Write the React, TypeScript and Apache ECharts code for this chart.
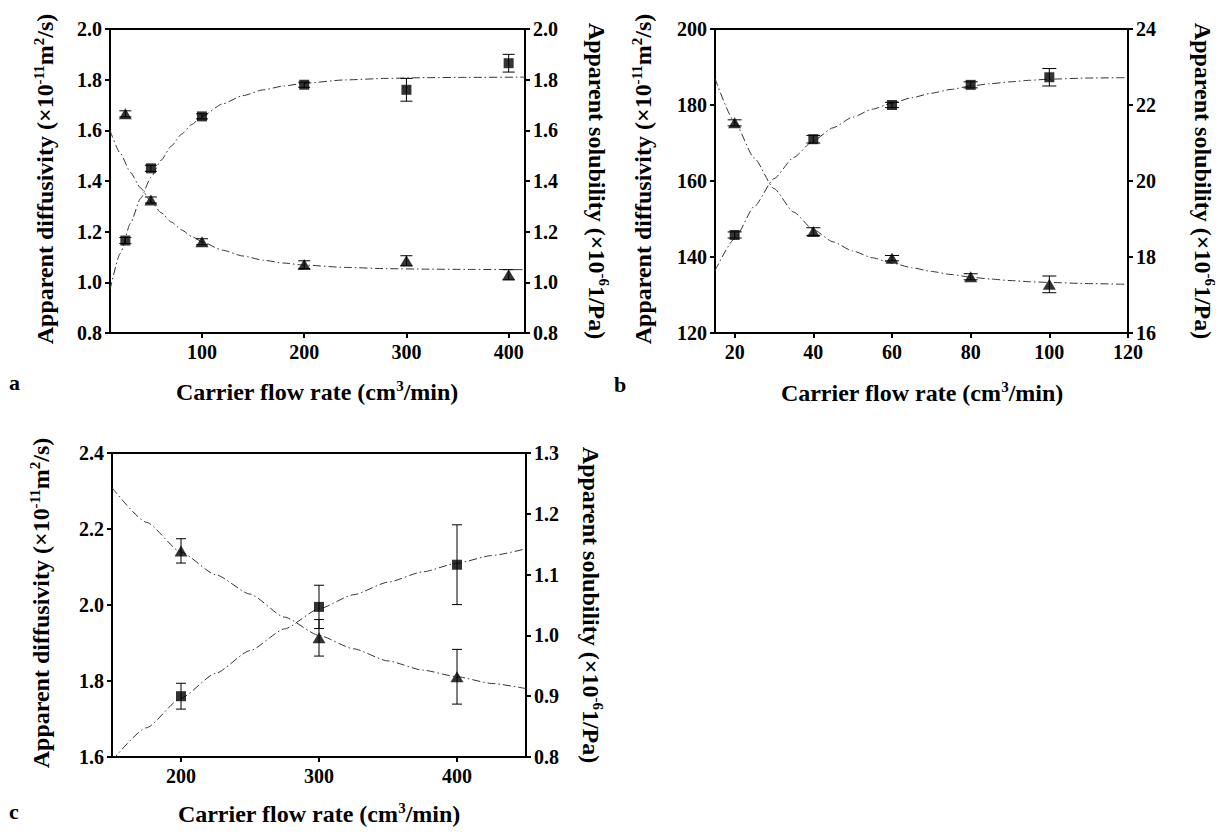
import React, { useEffect, useRef } from 'react';
import * as echarts from 'echarts';

const serif = 'Liberation Serif';

// ---------- Panel a ----------
const aX = [25, 50, 100, 200, 300, 400];
const aSquare = [1.165, 1.45, 1.655, 1.78, 1.76, 1.865];
const aSquareErr = [0.012, 0.012, 0.01, 0.01, 0.045, 0.035];
const aTri = [1.665, 1.325, 1.16, 1.07, 1.085, 1.03];
const aTriErr = [0.012, 0.012, 0.012, 0.015, 0.02, 0.02];
const aFitX = [10, 20, 30, 40, 50, 60, 70, 80, 90, 100, 120, 140, 160, 180, 200, 240, 280, 320, 360, 416];
const aSquareFit = [0.97, 1.114, 1.233, 1.332, 1.414, 1.482, 1.538, 1.585, 1.623, 1.655, 1.704, 1.737, 1.76, 1.775, 1.786, 1.799, 1.805, 1.808, 1.809, 1.81];
const aTriFit = [1.6, 1.51, 1.434, 1.372, 1.319, 1.275, 1.238, 1.207, 1.181, 1.16, 1.127, 1.104, 1.0875, 1.076, 1.068, 1.059, 1.054, 1.052, 1.051, 1.05];
const aXTicks = [100, 200, 300, 400];

// ---------- Panel b ----------
const bX = [20, 40, 60, 80, 100];
const bSquare = [145.8, 171.0, 180.0, 185.3, 187.3];
const bSquareErr = [0.8, 1.0, 0.7, 0.8, 2.3];
const bTri = [21.53, 18.67, 17.97, 17.48, 17.28];
const bTriErr = [0.08, 0.1, 0.07, 0.08, 0.22];
const bFitX = [15, 20, 25, 30, 35, 40, 45, 50, 55, 60, 65, 70, 75, 80, 85, 90, 95, 100, 110, 120];
const bSquareFit = [136.4, 144.8, 153.3, 160.6, 166.2, 170.6, 174.0, 176.8, 178.9, 180.5, 181.9, 183.1, 184.1, 185.0, 185.6, 186.1, 186.5, 186.8, 187.1, 187.2];
const bTriFit = [22.7, 21.55, 20.6, 19.8, 19.18, 18.72, 18.4, 18.16, 17.98, 17.84, 17.72, 17.62, 17.54, 17.47, 17.42, 17.38, 17.35, 17.33, 17.3, 17.28];
const bXTicks = [20, 40, 60, 80, 100, 120];

// ---------- Panel c ----------
const cX = [200, 300, 400];
const cSquare = [1.76, 1.995, 2.106];
const cSquareErr = [0.034, 0.057, 0.105];
const cTri = [1.139, 0.996, 0.932];
const cTriErr = [0.02, 0.03, 0.045];
const cFitX = [150, 175, 200, 225, 250, 275, 300, 325, 350, 375, 400, 425, 450];
const cSquareFit = [1.59, 1.677, 1.755, 1.82, 1.88, 1.937, 1.99, 2.027, 2.06, 2.087, 2.11, 2.13, 2.148];
const cTriFit = [1.243, 1.186, 1.137, 1.1, 1.068, 1.03, 1.0, 0.978, 0.958, 0.943, 0.932, 0.921, 0.9125];
const cXTicks = [200, 300, 400];

const zip = (xs: number[], ys: number[]) => xs.map((x, i) => [x, ys[i]]);
const zip3 = (xs: number[], ys: number[], es: number[]) => xs.map((x, i) => [x, ys[i], es[i]]);

const tickRich = { t: { fontSize: 20, fontWeight: 'bold', fontFamily: serif, color: '#000' } };

function yAx(gridIndex: number, position: string, min: number, max: number, interval: number, dec: number) {
  return {
    type: 'value', gridIndex, position, min, max, interval,
    splitLine: { show: false },
    axisLine: { show: true, onZero: false, lineStyle: { color: '#000', width: 2 } },
    axisTick: { show: true, length: 5, lineStyle: { color: '#000', width: 2 } },
    axisLabel: {
      color: '#000', fontSize: 20, fontWeight: 'bold', fontFamily: serif, margin: 8,
      rich: tickRich, formatter: (v: number) => `{t|${v.toFixed(dec)}}`,
    },
  };
}

function xAx(gridIndex: number, min: number, max: number, ticks: number[]) {
  return {
    type: 'value', gridIndex, min, max,
    splitLine: { show: false },
    axisLine: { show: true, onZero: false, lineStyle: { color: '#000', width: 2 } },
    axisTick: { show: true, length: 5, customValues: ticks, lineStyle: { color: '#000', width: 2 } },
    axisLabel: {
      color: '#000', fontSize: 20, fontWeight: 'bold', fontFamily: serif, margin: 9,
      customValues: ticks, rich: tickRich, formatter: (v: number) => `{t|${v}}`,
    },
  };
}

const dashDot = { color: '#333', width: 1, type: [8, 3, 1.5, 3] };

function fit(xi: number, yi: number, xs: number[], ys: number[]) {
  return {
    type: 'line', xAxisIndex: xi, yAxisIndex: yi, data: zip(xs, ys),
    smooth: 0.2, smoothMonotone: 'x', symbol: 'none', showSymbol: false,
    lineStyle: dashDot, silent: true, clip: true, z: 2,
  };
}

function pts(xi: number, yi: number, xs: number[], ys: number[], tri: boolean) {
  return {
    type: 'scatter', xAxisIndex: xi, yAxisIndex: yi, data: zip(xs, ys),
    symbol: tri ? 'triangle' : 'rect', symbolSize: tri ? [13, 11] : 10,
    itemStyle: { color: '#000' }, silent: true, z: 5,
  };
}

function errs(xi: number, yi: number, xs: number[], ys: number[], es: number[], hw: number) {
  return {
    type: 'custom', xAxisIndex: xi, yAxisIndex: yi, data: zip3(xs, ys, es),
    encode: { x: 0, y: 1 }, silent: true, z: 4,
    renderItem: (_p: any, api: any) => {
      const x = api.value(0), y = api.value(1), e = api.value(2);
      const t = api.coord([x, y + e]);
      const b = api.coord([x, y - e]);
      const st = { stroke: '#000', lineWidth: 1 };
      return {
        type: 'group',
        children: [
          { type: 'line', shape: { x1: t[0], y1: t[1], x2: b[0], y2: b[1] }, style: st },
          { type: 'line', shape: { x1: t[0] - hw, y1: t[1], x2: t[0] + hw, y2: t[1] }, style: st },
          { type: 'line', shape: { x1: b[0] - hw, y1: b[1], x2: b[0] + hw, y2: b[1] }, style: st },
        ],
      };
    },
  };
}

const rich = {
  n: { fontSize: 24, fontWeight: 'bold', fontFamily: serif, lineHeight: 28, fill: '#000' },
  s: { fontSize: 15, fontWeight: 'bold', fontFamily: serif, lineHeight: 12, verticalAlign: 'top', fill: '#000' },
};
const diffText = '{n|Apparent diffusivity (×10}{s|-11}{n|m}{s|2}{n|/s)}';
const solText = '{n|Apparent solubility (×10}{s|-6}{n|1/Pa)}';
const flowText = '{n|Carrier flow rate (cm}{s|3}{n|/min)}';

function title(text: string, x: number, y: number, rotation: number) {
  return {
    type: 'text', x, y, rotation, silent: true,
    style: { text, rich, align: 'center', verticalAlign: 'middle', fill: '#000' },
  };
}
function letter(t: string, x: number, y: number) {
  return {
    type: 'text', x, y, silent: true,
    style: { text: t, fontSize: 22, fontWeight: 'bold', fontFamily: serif, fill: '#000', align: 'left', verticalAlign: 'middle' },
  };
}

const option = {
  animation: false,
  backgroundColor: '#fff',
  textStyle: { fontFamily: serif, fontWeight: 'bold' },
  grid: [
    { left: 110, top: 29, width: 415, height: 304, show: true, borderColor: '#000', borderWidth: 2, backgroundColor: 'transparent' },
    { left: 715, top: 29, width: 413, height: 304, show: true, borderColor: '#000', borderWidth: 2, backgroundColor: 'transparent' },
    { left: 112, top: 453, width: 414, height: 304, show: true, borderColor: '#000', borderWidth: 2, backgroundColor: 'transparent' },
  ],
  xAxis: [xAx(0, 10, 416, aXTicks), xAx(1, 15, 120, bXTicks), xAx(2, 150, 450, cXTicks)],
  yAxis: [
    yAx(0, 'left', 0.8, 2.0, 0.2, 1),
    yAx(0, 'right', 0.8, 2.0, 0.2, 1),
    yAx(1, 'left', 120, 200, 20, 0),
    yAx(1, 'right', 16, 24, 2, 0),
    yAx(2, 'left', 1.6, 2.4, 0.2, 1),
    yAx(2, 'right', 0.8, 1.3, 0.1, 1),
  ],
  series: [
    fit(0, 0, aFitX, aSquareFit), fit(0, 1, aFitX, aTriFit),
    errs(0, 0, aX, aSquare, aSquareErr, 6), errs(0, 1, aX, aTri, aTriErr, 6),
    pts(0, 0, aX, aSquare, false), pts(0, 1, aX, aTri, true),

    fit(1, 2, bFitX, bSquareFit), fit(1, 3, bFitX, bTriFit),
    errs(1, 2, bX, bSquare, bSquareErr, 7), errs(1, 3, bX, bTri, bTriErr, 7),
    pts(1, 2, bX, bSquare, false), pts(1, 3, bX, bTri, true),

    fit(2, 4, cFitX, cSquareFit), fit(2, 5, cFitX, cTriFit),
    errs(2, 4, cX, cSquare, cSquareErr, 5), errs(2, 5, cX, cTri, cTriErr, 5),
    pts(2, 4, cX, cSquare, false), pts(2, 5, cX, cTri, true),
  ],
  graphic: [
    title(diffText, 45, 179, Math.PI / 2),
    title(solText, 597, 181, -Math.PI / 2),
    title(flowText, 317, 392, 0),
    letter('a', 9, 382),

    title(diffText, 643, 179, Math.PI / 2),
    title(solText, 1203, 181, -Math.PI / 2),
    title(flowText, 922, 393, 0),
    letter('b', 614, 384),

    title(diffText, 41, 603, Math.PI / 2),
    title(solText, 591, 605, -Math.PI / 2),
    title(flowText, 319, 814, 0),
    letter('c', 9, 811),
  ],
};

export default function App() {
  const ref = useRef<HTMLDivElement>(null);
  useEffect(() => {
    const chart = echarts.init(ref.current!, null, { renderer: 'svg' });
    chart.setOption(option as any);
    return () => chart.dispose();
  }, []);
  return (
    <div
      ref={ref}
      style={{ position: 'fixed', left: 0, top: 0, width: 1227, height: 834, background: '#fff' }}
    />
  );
}
